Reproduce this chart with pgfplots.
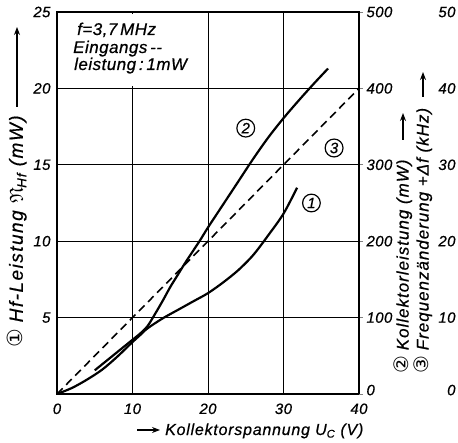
\documentclass[border=0pt]{standalone}
\usepackage{amssymb}
\usepackage{fontspec}
\setmainfont{Liberation Sans}
\newfontfamily\lbl{Liberation Sans}[LetterSpace=3, FakeBold=0.6]
\newfontfamily\lblw{Liberation Sans}[LetterSpace=8, FakeBold=0.6]
\newfontfamily\lblr{Liberation Sans}[LetterSpace=6, FakeBold=0.6]
\newfontfamily\djv{DejaVu Sans}
\usepackage{pgfplots}
\pgfplotsset{compat=1.18}
\usetikzlibrary{arrows.meta}
\tikzset{
  cnum/.style={circle, draw, line width=1.2pt, inner sep=1.6pt, font=\lbl\itshape\fontsize{15}{15}\selectfont},
  larr/.style={-{Stealth[length=8bp,width=6bp]}, line width=1.2pt},
}

\begin{document}
\begin{tikzpicture}[font=\itshape]
\pgfplotsset{
  base/.style={scale only axis, width=302bp, height=382bp, xmin=0, xmax=40,
    /pgf/number format/assume math mode=true,
    tick label style={font=\lbl\itshape\fontsize{15}{15}\selectfont}},
}
\begin{axis}[base, name=ax, ymin=0, ymax=25,
  xtick={0,10,...,40}, ytick={5,10,...,25},
  grid=major, major grid style={black, line width=0.8pt},
  major tick length=0pt,
  axis line style={line width=2.2pt},
  xticklabel style={yshift=-6bp},
  yticklabel style={xshift=-3bp}]
\fill[white] (axis cs:0.25,20.14) rectangle (axis cs:19.85,24.85);
% (3) Frequenzaenderung
\addplot[line width=1.6pt, dash pattern=on 8pt off 5pt] coordinates {(0,0) (40,20)};
% (1) Hf-Leistung
\addplot[line width=2.2pt, smooth] coordinates {
  (0,0) (2,0.4) (4,0.95) (6,1.6) (8,2.45) (10,3.4) (11,3.85) (12,4.3) (14,4.95) (16,5.5)
  (18,6.05) (20,6.6) (22,7.3) (24,8.1) (26,9.1) (28,10.4) (30,11.8) (31.8,13.5)};
% (2) Kollektorleistung
\addplot[line width=2.2pt, smooth] coordinates {
  (5.0,1.55) (6,1.95) (7,2.35) (8,2.75) (9,3.15) (10,3.55) (11,3.95) (12,4.45)
  (13,5.25) (14,6.1) (15,7.0) (16,7.8) (17,8.6) (18,9.35) (19,10.1) (20,10.9)
  (22,12.4) (24,13.9) (26,15.4) (28,16.8) (30,18.05) (32,19.2) (34,20.3) (35.9,21.3)};
\node[cnum] at (axis cs:25,17.4) {2};
\node[cnum] at (axis cs:36.7,16.1) {3};
\node[cnum] at (axis cs:33.7,12.5) {1};
\end{axis}

\begin{axis}[base, ymin=0, ymax=500, axis x line=none, axis y line*=right,
  ytick={0,100,...,500},
  yticklabels={\raisebox{8bp}{0},100,200,300,400,500},
  tick align=outside, major tick length=4bp,
  y axis line style={line width=2.2pt}, tick style={line width=0.9pt}]
\end{axis}

\begin{axis}[base, ymin=0, ymax=50, axis x line=none, axis y line*=right,
  y axis line style={draw=none}, major tick length=0pt,
  ytick={0,10,...,50},
  yticklabels={\raisebox{8bp}{0},10,20,30,40,50},
  yticklabel style={anchor=east, xshift=100bp}]
\end{axis}

% text box
\begin{scope}[font=\lbl\itshape\fontsize{17}{17}\selectfont]
\node[anchor=base west, inner sep=0] at ([shift={(20bp,359bp)}]ax.south west) {f=3,7\,MHz};
\node[anchor=base west, inner sep=0] at ([shift={(16bp,341bp)}]ax.south west) {Eingangs\,--};
\node[anchor=base west, inner sep=0] at ([shift={(17bp,324bp)}]ax.south west) {leistung\,:\,1mW};
\end{scope}

% left label
\node[rotate=90, anchor=west, inner sep=0, font=\lblw\itshape\fontsize{19}{19}\selectfont]
  at ([shift={(-40bp,46bp)}]ax.south west)
  {{\djv\upshape\fontsize{21}{21}\selectfont ①}\ Hf-Leistung $\mathfrak{N}$\textsubscript{Hf} (mW)};
\draw[larr] ([shift={(-40bp,287bp)}]ax.south west) -- ++(0,80bp);

% x label
\node[anchor=base west, inner sep=0, font=\lbl\addfontfeatures{LetterSpace=5}\itshape\fontsize{16}{16}\selectfont]
  at ([shift={(108bp,-41bp)}]ax.south west) {Kollektorspannung U\textsubscript{C} (V)};
\draw[larr] ([shift={(80bp,-36bp)}]ax.south west) -- ++(23bp,0);

% right labels
\begin{scope}[font=\lblr\itshape\fontsize{17}{17}\selectfont]
\node[rotate=90, anchor=west, inner sep=0]
  at ([shift={(346bp,20bp)}]ax.south west)
  {{\djv\upshape\fontsize{20}{20}\selectfont ②}\ Kollektorleistung (mW)};
\draw[larr] ([shift={(346bp,254bp)}]ax.south west) -- ++(0,27bp);
\node[rotate=90, anchor=west, inner sep=0]
  at ([shift={(366bp,20bp)}]ax.south west)
  {{\djv\upshape\fontsize{20}{20}\selectfont ③}\ Frequenzänderung +Δf (kHz)};
\draw[larr] ([shift={(366bp,297bp)}]ax.south west) -- ++(0,25bp);
\end{scope}

\pgfresetboundingbox
\path[use as bounding box] ([shift={(-57bp,-49bp)}]ax.south west)
  rectangle ([shift={(401bp,394bp)}]ax.south west);
\end{tikzpicture}
\end{document}
